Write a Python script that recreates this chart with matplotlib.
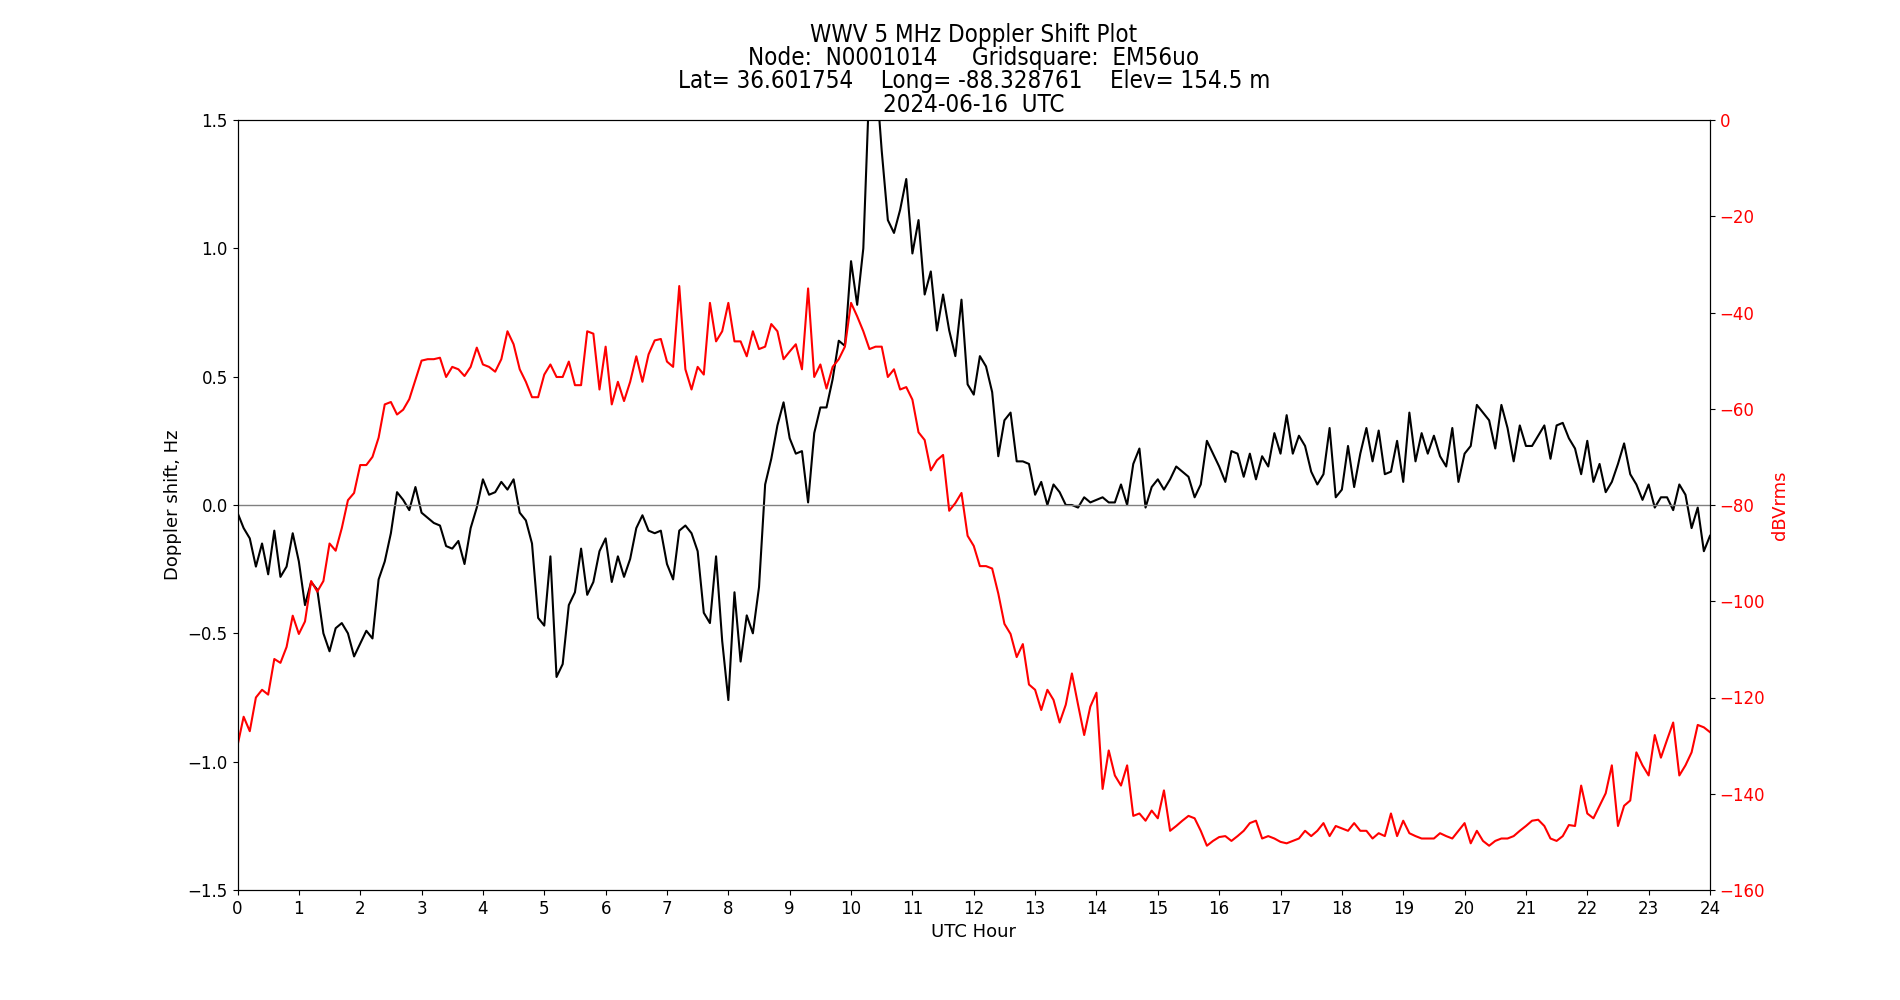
import numpy as np
import matplotlib
matplotlib.use("Agg")
import matplotlib.pyplot as plt

# UTC hour samples (every 6 minutes)
hours = np.round(np.arange(0, 24.01, 0.1), 1)

# Doppler shift, Hz
doppler = [
    # 0.0 - 3.0
    -0.03, -0.09, -0.13, -0.24, -0.15, -0.27, -0.10, -0.28, -0.24, -0.11,
    -0.22, -0.39, -0.30, -0.33, -0.50, -0.57, -0.48, -0.46, -0.50, -0.59,
    -0.54, -0.49, -0.52, -0.29, -0.22, -0.11, 0.05, 0.02, -0.02, 0.07,
    -0.03,
    # 3.1 - 6.0
    -0.05, -0.07, -0.08, -0.16, -0.17, -0.14, -0.23, -0.09, -0.01, 0.10,
    0.04, 0.05, 0.09, 0.06, 0.10, -0.03, -0.06, -0.15, -0.44, -0.47,
    -0.20, -0.67, -0.62, -0.39, -0.34, -0.17, -0.35, -0.30, -0.18, -0.13,
    # 6.1 - 9.0
    -0.30, -0.20, -0.28, -0.21, -0.09, -0.04, -0.10, -0.11, -0.10, -0.23,
    -0.29, -0.10, -0.08, -0.11, -0.18, -0.42, -0.46, -0.20, -0.53, -0.76,
    -0.34, -0.61, -0.43, -0.50, -0.32, 0.08, 0.18, 0.31, 0.40, 0.26,
    # 9.1 - 12.0
    0.20, 0.21, 0.01, 0.28, 0.38, 0.38, 0.49, 0.64, 0.62, 0.95,
    0.78, 1.00, 1.65, 1.70, 1.38, 1.11, 1.06, 1.15, 1.27, 0.98,
    1.11, 0.82, 0.91, 0.68, 0.82, 0.68, 0.58, 0.80, 0.47, 0.43,
    # 12.1 - 15.0
    0.58, 0.54, 0.44, 0.19, 0.33, 0.36, 0.17, 0.17, 0.16, 0.04,
    0.09, 0.00, 0.08, 0.05, 0.00, 0.00, -0.01, 0.03, 0.01, 0.02,
    0.03, 0.01, 0.01, 0.08, 0.00, 0.16, 0.22, -0.01, 0.07, 0.10,
    # 15.1 - 18.0
    0.06, 0.10, 0.15, 0.13, 0.11, 0.03, 0.08, 0.25, 0.20, 0.15,
    0.09, 0.21, 0.20, 0.11, 0.20, 0.10, 0.19, 0.15, 0.28, 0.20,
    0.35, 0.20, 0.27, 0.23, 0.13, 0.08, 0.12, 0.30, 0.03, 0.06,
    # 18.1 - 21.0
    0.23, 0.07, 0.20, 0.30, 0.17, 0.29, 0.12, 0.13, 0.25, 0.09,
    0.36, 0.17, 0.28, 0.20, 0.27, 0.19, 0.15, 0.30, 0.09, 0.20,
    0.23, 0.39, 0.36, 0.33, 0.22, 0.39, 0.30, 0.17, 0.31, 0.23,
    # 21.1 - 24.0
    0.23, 0.27, 0.31, 0.18, 0.31, 0.32, 0.26, 0.22, 0.12, 0.25,
    0.09, 0.16, 0.05, 0.09, 0.16, 0.24, 0.12, 0.08, 0.02, 0.08,
    -0.01, 0.03, 0.03, -0.02, 0.08, 0.04, -0.09, -0.01, -0.18, -0.12,
]

# received signal level, dBVrms
power = [
    # 0.0 - 3.0
    -130.0, -124.0, -127.0, -120.0, -118.4, -119.4, -112.0, -112.8, -109.5, -103.0,
    -106.8, -104.2, -95.8, -98.0, -95.8, -88.0, -89.5, -84.8, -79.0, -77.5,
    -71.7, -71.7, -70.0, -66.0, -59.1, -58.6, -61.2, -60.2, -58.0, -54.0,
    -50.0,
    # 3.1 - 6.0
    -49.7, -49.7, -49.4, -53.4, -51.3, -51.8, -53.2, -51.3, -47.3, -50.8,
    -51.3, -52.3, -49.7, -43.9, -46.6, -51.8, -54.4, -57.6, -57.6, -52.9,
    -50.8, -53.4, -53.4, -50.2, -55.1, -55.1, -43.9, -44.4, -56.0, -47.1,
    # 6.1 - 9.0
    -59.1, -54.4, -58.4, -54.4, -49.1, -54.4, -48.7, -45.8, -45.5, -50.2,
    -51.3, -34.5, -51.8, -56.0, -51.3, -52.9, -38.0, -46.0, -43.9, -38.0,
    -46.0, -46.0, -49.1, -43.9, -47.6, -47.1, -42.4, -43.9, -49.7, -48.1,
    # 9.1 - 12.0
    -46.6, -51.8, -35.0, -53.4, -50.8, -55.8, -51.3, -49.7, -47.1, -38.0,
    -40.8, -43.9, -47.6, -47.1, -47.1, -53.4, -51.8, -56.0, -55.5, -58.1,
    -64.9, -66.5, -72.8, -70.7, -69.6, -81.2, -79.6, -77.5, -86.4, -88.5,
    # 12.1 - 15.0
    -92.7, -92.7, -93.2, -98.4, -104.7, -106.8, -111.6, -108.9, -117.3, -118.4,
    -122.6, -118.4, -120.5, -125.2, -121.5, -115.0, -121.5, -127.8, -121.9, -119.0,
    -139.0, -131.0, -136.2, -138.3, -134.1, -144.6, -144.1, -145.6, -143.5, -145.1,
    # 15.1 - 18.0
    -139.3, -147.7, -146.7, -145.6, -144.6, -145.1, -147.7, -150.8, -149.8, -149.0,
    -148.8, -149.8, -148.8, -147.7, -146.1, -145.6, -149.3, -148.8, -149.3, -150.0,
    -150.3, -149.8, -149.3, -147.7, -148.8, -147.7, -146.1, -148.8, -146.7, -147.2,
    # 18.1 - 21.0
    -147.7, -146.1, -147.7, -147.7, -149.3, -148.2, -148.8, -144.1, -148.8, -145.6,
    -148.2, -148.8, -149.3, -149.3, -149.3, -148.2, -148.8, -149.3, -147.7, -146.1,
    -150.3, -147.7, -149.8, -150.8, -149.8, -149.3, -149.3, -148.8, -147.7, -146.7,
    # 21.1 - 24.0
    -145.6, -145.4, -146.7, -149.3, -149.8, -148.8, -146.5, -146.7, -138.3, -144.1,
    -145.1, -142.5, -139.9, -134.1, -146.7, -142.5, -141.4, -131.4, -134.1, -136.2,
    -127.8, -132.5, -128.8, -125.2, -136.2, -134.1, -131.4, -125.7, -126.2, -127.2,
]

title = ("WWV 5 MHz Doppler Shift Plot\n"
         "Node:  N0001014     Gridsquare:  EM56uo\n"
         "Lat= 36.601754    Long= -88.328761    Elev= 154.5 m\n"
         "2024-06-16  UTC")

plt.rcParams['font.size'] = 12

fig, ax = plt.subplots(figsize=(19, 10), dpi=100)
ax.plot(hours, doppler, color='black', linewidth=1.5)
ax.axhline(0, color='gray', linewidth=1)
ax.set_xlim(0, 24)
ax.set_ylim(-1.5, 1.5)
ax.set_xticks(range(0, 25))
ax.set_xlabel('UTC Hour', fontsize=13)
ax.set_ylabel('Doppler shift, Hz', fontsize=13)
ax.set_title(title, fontsize=17.3, fontstretch='condensed', linespacing=0.96)

ax2 = ax.twinx()
ax2.plot(hours, power, color='red', linewidth=1.5)
ax2.set_ylim(-160, 0)
ax2.set_ylabel('dBVrms', color='red', fontsize=13)
ax2.tick_params(axis='y', labelcolor='red')

fig.savefig('out.png')
